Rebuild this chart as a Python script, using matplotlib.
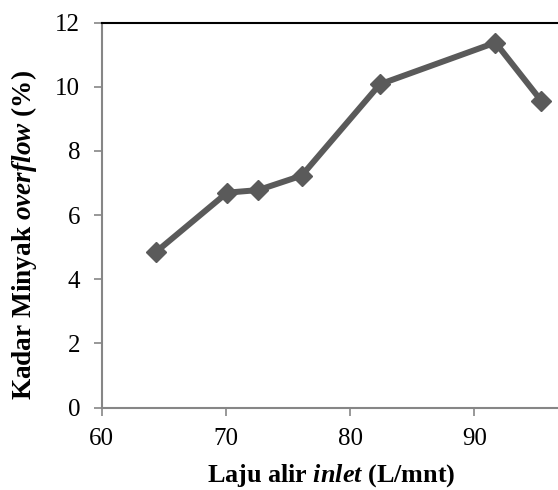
import matplotlib
matplotlib.use("Agg")
import matplotlib.pyplot as plt

flow = [64.4, 70.1, 72.6, 76.1, 82.4, 91.7, 95.4]
oil = [4.86, 6.70, 6.78, 7.23, 10.08, 11.38, 9.56]
xticks = [60, 70, 80, 90]
yticks = [0, 2, 4, 6, 8, 10, 12]

plt.rcParams['font.family'] = ['Liberation Serif', 'DejaVu Serif']
plt.rcParams['mathtext.fontset'] = 'custom'
plt.rcParams['mathtext.rm'] = 'Liberation Serif:bold'
plt.rcParams['mathtext.it'] = 'Liberation Serif:italic:bold'
plt.rcParams['mathtext.bf'] = 'Liberation Serif:bold'

W, H = 558, 490
fig = plt.figure(figsize=(W / 100, H / 100), dpi=100)
left_px, right_px, top_px, bot_px = 101.7, 563.0, 22.7, 407.5
ax = fig.add_axes([left_px / W, 1 - bot_px / H, (right_px - left_px) / W, (bot_px - top_px) / H])
ax.plot(flow, oil, color='#5a5a5a', linewidth=4.3, marker='D', markersize=10,
        markerfacecolor='#5a5a5a', markeredgecolor='#5a5a5a', solid_joinstyle='miter')
ax.set_xlim(60, 60 + (right_px - left_px) / 12.42)
ax.set_ylim(0, 12)
ax.set_xticks(xticks)
ax.set_yticks(yticks)
ax.tick_params(axis='both', direction='out', length=5.5, width=1.2, color='#868686',
               labelsize=18)
ax.tick_params(axis='x', pad=9)
ax.tick_params(axis='y', pad=10)
for s in ['left', 'bottom']:
    ax.spines[s].set_color('#868686')
    ax.spines[s].set_linewidth(1.5)
ax.spines['top'].set_color('black')
ax.spines['top'].set_linewidth(1.5)
ax.spines['right'].set_visible(False)

fig.text(331 / W, 1 - 482 / H, 'Laju alir $\\it{inlet}$ (L/mnt)', fontsize=18.8,
         fontweight='bold', ha='center', va='baseline')
fig.text(24 / W, 1 - 234.5 / H, 'Kadar Minyak $\\it{overflow}$ (%)', fontsize=19.6,
         fontweight='bold', ha='center', va='center', rotation=90)

fig.savefig('out.png', dpi=100)
